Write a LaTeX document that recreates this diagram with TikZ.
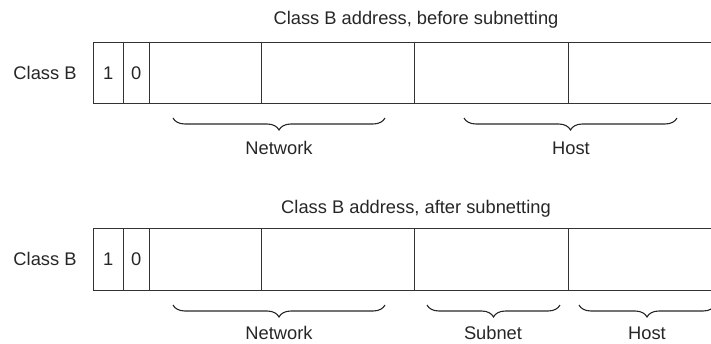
\documentclass[tikz,border=0pt]{standalone}
\usepackage{fontspec}
\setmainfont{Liberation Sans}
\usetikzlibrary{decorations.pathreplacing}
\tikzset{
  cell/.style={draw=black!80, line width=1.1pt, anchor=north west, inner sep=0pt, minimum height=61pt},
  lbl/.style={text=black!85, inner sep=0pt, font=\fontsize{18.3}{22}\selectfont},
  brc/.style={draw=black!85, line width=1.1pt, decorate, decoration={brace, mirror, amplitude=12pt, aspect=0.5}},
}
\begin{document}
\begin{tikzpicture}[x=1pt, y=-1pt]
\useasboundingbox (0,0) rectangle (711,344);
\clip (0,0) rectangle (711,344);
% ---------- top: before subnetting ----------
\node[lbl] (t1) at (416,20) {Class B address, before subnetting};
\node[lbl] (c1) at (45,73) {Class B};
\node[cell, minimum width=29.5pt] (a1) at (93,42) {};
\node[cell, minimum width=26.5pt] (a2) at (122.5,42) {};
\node[cell, minimum width=112pt] (a3) at (149,42) {};
\node[cell, minimum width=153pt] (a4) at (261,42) {};
\node[cell, minimum width=154pt] (a5) at (414,42) {};
\node[cell, minimum width=160pt] (a6) at (568,42) {};
\node[lbl] (b1) at (a1.center) {1};
\node[lbl] (b2) at (a2.center) {0};
\coordinate (n1l) at (173,118);
\coordinate (n1r) at (385,118);
\coordinate (h1l) at (464,118);
\coordinate (h1r) at (677,118);
\draw[brc] (n1l) -- (n1r);
\draw[brc] (h1l) -- (h1r);
\node[lbl] (net1) at (279,148) {Network};
\node[lbl] (host1) at (571,148) {Host};
% ---------- bottom: after subnetting ----------
\node[lbl] (t2) at (416,209) {Class B address, after subnetting};
\node[lbl] (c2) at (45,259) {Class B};
\node[cell, minimum width=29.5pt, minimum height=62pt] (d1) at (93,228) {};
\node[cell, minimum width=26.5pt, minimum height=62pt] (d2) at (122.5,228) {};
\node[cell, minimum width=112pt, minimum height=62pt] (d3) at (149,228) {};
\node[cell, minimum width=153pt, minimum height=62pt] (d4) at (261,228) {};
\node[cell, minimum width=154pt, minimum height=62pt] (d5) at (414,228) {};
\node[cell, minimum width=160pt, minimum height=62pt] (d6) at (568,228) {};
\node[lbl] (e1) at (d1.center) {1};
\node[lbl] (e2) at (d2.center) {0};
\coordinate (n2l) at (173,305);
\coordinate (n2r) at (385,305);
\coordinate (s2l) at (427,305);
\coordinate (s2r) at (560,305);
\coordinate (h2l) at (579,305);
\coordinate (h2r) at (715,305);
\draw[brc] (n2l) -- (n2r);
\draw[brc] (s2l) -- (s2r);
\draw[brc] (h2l) -- (h2r);
\node[lbl] (net2) at (279,333) {Network};
\node[lbl] (sub2) at (493,333) {Subnet};
\node[lbl] (host2) at (647,333) {Host};
\end{tikzpicture}
\end{document}
